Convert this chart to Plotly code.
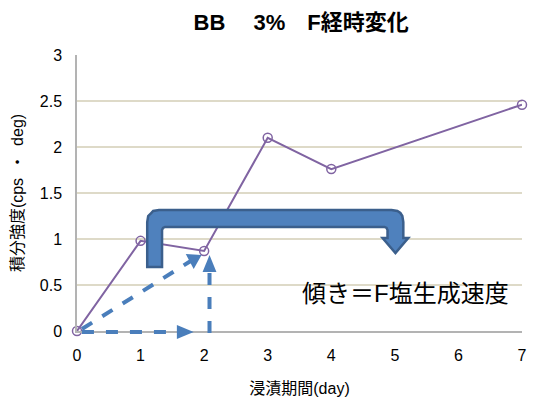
import plotly.graph_objects as go

# immersion period (day) and integrated intensity
days = [0, 1, 2, 3, 4, 7]
intensity = [0.0, 0.98, 0.87, 2.10, 1.76, 2.46]

x_ticks = [0, 1, 2, 3, 4, 5, 6, 7]
y_ticks = [0, 0.5, 1, 1.5, 2, 2.5, 3]

FONT = "Liberation Sans, Arial, Noto Sans CJK JP, sans-serif"
PURPLE = "#8064a2"
BLUE = "#4a7ebb"
BLUE_DARK = "#3b5f8c"

W, H = 533, 408
L, R, T, B = 77, 6, 55, 77
pw, ph = W - L - R, H - T - B


def px_(a):
    return (a - L) / pw


def py_(b):
    return (T + ph - b) / ph


def path(points):
    return "M " + " L ".join(f"{px_(a):.4f},{py_(b):.4f}" for a, b in points) + " Z"


fig = go.Figure()
fig.add_trace(go.Scatter(
    x=days, y=intensity, mode="lines+markers",
    line=dict(color=PURPLE, width=2),
    marker=dict(symbol="circle-open", size=9, color=PURPLE, line=dict(width=1.5)),
    cliponaxis=False, showlegend=False,
))

shapes = []
# dashed guide arrows (base, height, slope)
dash_line = dict(color=BLUE, width=4, dash="dash")


def seg(x0, y0, x1, y1):
    return dict(type="line", xref="paper", yref="paper",
                x0=px_(x0), y0=py_(y0), x1=px_(x1), y1=py_(y1), line=dash_line)


def head(points):
    return dict(type="path", xref="paper", yref="paper", path=path(points),
                fillcolor=BLUE, line=dict(width=0))


shapes.append(seg(82, 332, 180, 332))
shapes.append(head([(178, 325), (195, 332), (178, 339)]))
shapes.append(seg(211, 333, 211, 270))
shapes.append(head([(204, 272), (211, 255), (218, 272)]))
shapes.append(seg(82, 329, 192, 261))
shapes.append(head([(187, 254), (203, 255), (195, 269)]))

# bent block arrow
bent = [
    (148, 267), (148, 222),
    (149, 216), (152, 213), (154, 211), (160, 210),
    (395, 210), (401, 211), (404, 213), (406, 216), (407, 222),
    (407, 238), (412, 238), (399, 253), (386, 238), (391, 238),
    (391, 230), (390, 228), (388, 227),
    (166, 227), (164, 228), (163, 230),
    (163, 267),
]
shapes.append(dict(type="path", xref="paper", yref="paper", path=path(bent),
                   fillcolor="#4f81bd", line=dict(color=BLUE_DARK, width=2.5)))

fig.update_layout(
    width=W, height=H,
    margin=dict(l=L, r=R, t=T, b=B),
    paper_bgcolor="white", plot_bgcolor="white",
    font=dict(family=FONT, color="#000000", size=16),
    title=dict(text="<b>BB\u3000 3%\u3000F経時変化</b>", x=0.565, xanchor="center",
               y=0.945, yanchor="middle", font=dict(size=22, family=FONT)),
    shapes=shapes,
    xaxis=dict(range=[0, 7], tickvals=x_ticks, showgrid=False, zeroline=False,
               showline=True, linecolor="#b3b3b3", linewidth=1.5, ticks="",
               tickfont=dict(size=16), ticklabelstandoff=9,
               title=dict(text="浸漬期間(day)", font=dict(size=16), standoff=20)),
    yaxis=dict(range=[0, 3], tickvals=y_ticks, showgrid=True, gridcolor="#dedac8",
               gridwidth=1.5, zeroline=False, showline=True, linecolor="#b3b3b3",
               linewidth=1.5, ticks="", tickfont=dict(size=16), ticklabelstandoff=10,
               title=dict(text="積分強度(cps\u2002・\u2002deg)", font=dict(size=16),
                          standoff=12)),
    annotations=[dict(text="傾き＝F塩生成速度", xref="paper", yref="paper",
                      x=px_(409), y=py_(293), xanchor="center", yanchor="middle",
                      showarrow=False, font=dict(size=24, family=FONT))],
)

fig.write_html("out.html")
